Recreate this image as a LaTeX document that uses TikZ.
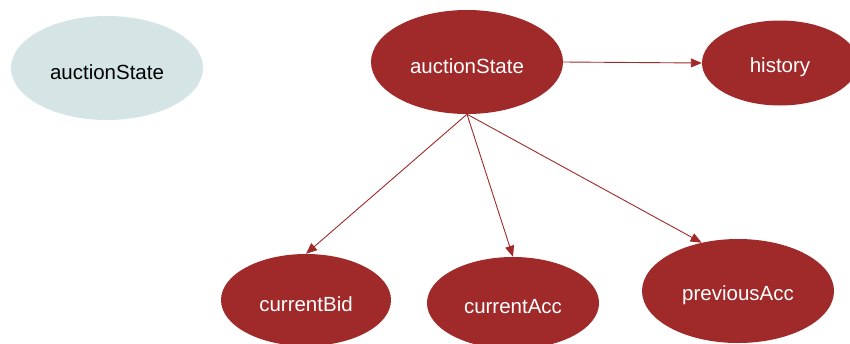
\documentclass[tikz,border=0pt]{standalone}
\usepackage{fontspec}
\setmainfont{Liberation Sans}
\usetikzlibrary{shapes.geometric,arrows.meta}
\definecolor{dred}{HTML}{A0292A}
\definecolor{lblue}{HTML}{D5E5E5}
\newcommand{\lowered}[1]{\raisebox{-4pt}[\height][\depth]{#1}}
\tikzset{
  redell/.style={ellipse, fill=dred, draw=none, text=white, inner sep=0pt, font=\fontsize{20.5}{23}\selectfont},
  lightell/.style={ellipse, fill=lblue, draw=none, text=black, inner sep=0pt, font=\fontsize{20.5}{23}\selectfont},
  conn/.style={draw=dred, line width=0.9pt, -{Triangle[length=11pt,width=9pt]}, shorten >=0pt}
}
\begin{document}
\begin{tikzpicture}[x=1pt,y=-1pt]
\useasboundingbox[fill=white] (0,0) rectangle (850,343);
\node[lightell, minimum width=192pt, minimum height=104pt] (ls) at (107,68) {\lowered{auctionState}};
\node[redell, minimum width=192pt, minimum height=104pt] (as) at (467,62) {\lowered{auctionState}};
\node[redell, minimum width=156pt, minimum height=85pt] (hi) at (780,63) {\lowered{history}};
\node[redell, minimum width=170pt, minimum height=92pt] (cb) at (306,300) {\lowered{currentBid}};
\node[redell, minimum width=172pt, minimum height=92pt] (ca) at (513,303) {\lowered{currentAcc}};
\node[redell, minimum width=192pt, minimum height=104pt] (pa) at (738,291) {\lowered{previousAcc}};
\draw[conn] (as.east) -- (hi.west);
\draw[conn] (as.south) -- (cb.north);
\draw[conn] (as.south) -- (ca.north);
\draw[conn] (as.south) -- (pa.127);
\end{tikzpicture}
\end{document}
